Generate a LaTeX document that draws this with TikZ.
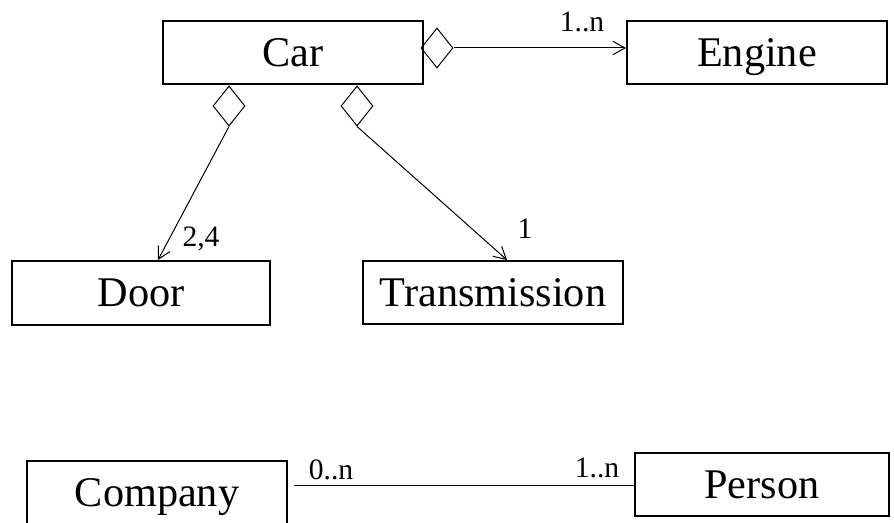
\documentclass[tikz,border=0pt]{standalone}
\usepackage{fontspec}
\setmainfont{Liberation Serif}
\usetikzlibrary{shapes.geometric,arrows.meta}

\tikzset{every picture/.style={line width=0.75pt}}
\tikzset{
	classbox/.style={draw, line width=1.5pt, rectangle, inner sep=0pt, minimum width=195pt, minimum height=47.25pt, text height=21pt, text depth=0pt, font=\fontsize{31.7}{36}\selectfont},
	aggr/.style={draw, diamond, inner sep=0pt, minimum width=24pt, minimum height=30pt},
	mult/.style={inner sep=0.75pt, text height=15pt, text depth=0pt, font=\fontsize{22.2}{26}\selectfont},
	assoc/.style={-{Straight Barb[length=9pt,width=10pt]}}
}

\begin{document}
\begin{tikzpicture}[x=0.75pt,y=0.75pt,yscale=-1,xscale=1]
		\useasboundingbox (0,0) rectangle (894,523);
		
		%Classes
		\node [classbox] (car) at (293,52.5) {Car};
		\node [classbox] (engine) at (757,53) {Engine};
		\node [classbox, minimum width=193.5pt, minimum height=48pt] (door) at (141,293) {Door};
		\node [classbox] (transmission) at (493,292.5) {Transmission};
		\node [classbox] (company) at (157,492.5) {Company};
		\node [classbox, minimum width=190.5pt] (person) at (762,484.5) {Person};
		
		%Shape: Diamond
		\node [aggr] (carEngine) at (437,48) {};
		\node [aggr] (carDoor) at (229,106) {};
		\node [aggr] (carTrans) at (357,106) {};
		
		\draw [assoc] (carEngine.east) -- (engine.west |- carEngine.east);
		\draw [assoc] (carDoor.south) -- ([xshift=12.75pt]door.north);
		\draw [assoc] (carTrans.south) -- ([xshift=10.5pt]transmission.north);
		\draw [shorten <=4.5pt] (company.east |- 0,486) -- (person.west |- 0,486);
		
		\node [mult] (engineMult) at (582,22) {1..n};
		\node [mult] (doorMult) at (201,237) {2,4};
		\node [mult] (transMult) at (525,229) {1};
		\node [mult] (companyMult) at (331,470) {0..n};
		\node [mult] (personMult) at (597,468) {1..n};
		
\end{tikzpicture}
\end{document}
